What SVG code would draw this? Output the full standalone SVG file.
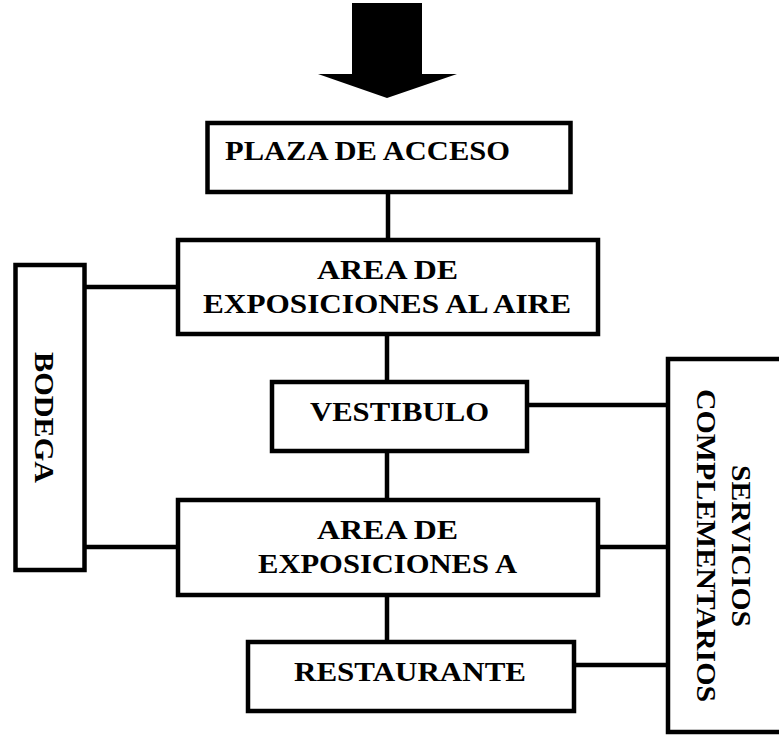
<svg xmlns="http://www.w3.org/2000/svg" width="779" height="737" viewBox="0 0 779 737">
<style>
.box{fill:#fff;stroke:#000;stroke-width:4.5}
.ln{stroke:#000;stroke-width:4.5;fill:none}
.t{font-family:"Liberation Serif","Times New Roman",serif;font-weight:bold;font-size:28px;fill:#000;text-anchor:middle}
</style>
<rect width="779" height="737" fill="#fff"/>
<g id="connectors">
<line class="ln" x1="388" y1="192" x2="388" y2="240"/>
<line class="ln" x1="387" y1="334" x2="387" y2="382"/>
<line class="ln" x1="387" y1="451" x2="387" y2="500"/>
<line class="ln" x1="387" y1="595" x2="387" y2="642"/>
<line class="ln" x1="84" y1="287" x2="178" y2="287"/>
<line class="ln" x1="84" y1="547" x2="178" y2="547"/>
<line class="ln" x1="527" y1="405" x2="668" y2="405"/>
<line class="ln" x1="598" y1="547" x2="668" y2="547"/>
<line class="ln" x1="574" y1="665" x2="668" y2="665"/>
</g>
<g id="arrow">
<polygon points="352,3 422,3 422,74 457,74 387,98 318,74 352,74" fill="#000"/>
</g>
<g id="plaza">
<rect class="box" x="207.5" y="123" width="363" height="69"/>
<text class="t" x="367.5" y="160" textLength="285" lengthAdjust="spacingAndGlyphs">PLAZA DE ACCESO</text>
</g>
<g id="area1">
<rect class="box" x="178" y="240" width="420" height="94"/>
<text class="t" x="387.5" y="279" textLength="141" lengthAdjust="spacingAndGlyphs">AREA DE</text>
<text class="t" x="387" y="313" textLength="368" lengthAdjust="spacingAndGlyphs">EXPOSICIONES AL AIRE</text>
</g>
<g id="vestibulo">
<rect class="box" x="272" y="382" width="255" height="69"/>
<text class="t" x="399.5" y="421" textLength="179" lengthAdjust="spacingAndGlyphs">VESTIBULO</text>
</g>
<g id="area2">
<rect class="box" x="178" y="500" width="420" height="95"/>
<text class="t" x="387.5" y="539" textLength="141" lengthAdjust="spacingAndGlyphs">AREA DE</text>
<text class="t" x="387.5" y="573" textLength="259" lengthAdjust="spacingAndGlyphs">EXPOSICIONES A</text>
</g>
<g id="restaurante">
<rect class="box" x="248" y="642" width="326" height="69"/>
<text class="t" x="410" y="681" textLength="232" lengthAdjust="spacingAndGlyphs">RESTAURANTE</text>
</g>
<g id="bodega">
<rect class="box" x="15.5" y="265" width="69" height="305"/>
<text class="t" transform="translate(35,417.5) rotate(90)" x="0" y="0" textLength="131" lengthAdjust="spacingAndGlyphs">BODEGA</text>
</g>
<g id="servicios">
<rect class="box" x="668" y="359" width="120" height="373"/>
<text class="t" transform="translate(732,546) rotate(90)" x="0" y="0" textLength="162" lengthAdjust="spacingAndGlyphs">SERVICIOS</text>
<text class="t" transform="translate(697,545.5) rotate(90)" x="0" y="0" textLength="313" lengthAdjust="spacingAndGlyphs">COMPLEMENTARIOS</text>
</g>
</svg>
